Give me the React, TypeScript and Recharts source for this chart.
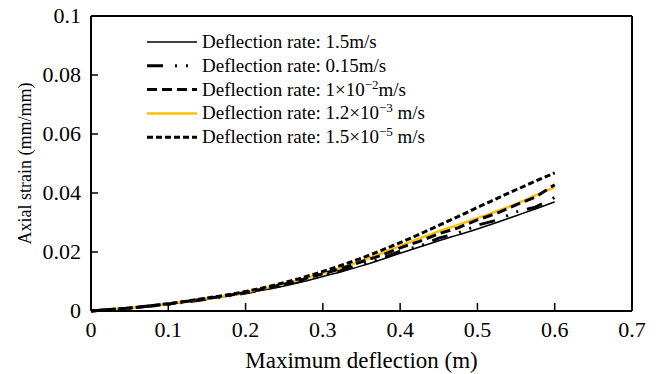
import { LineChart, Line, XAxis, YAxis, ReferenceLine } from "recharts"

// maximum deflection (m)
const deflection = [
  0, 0.025, 0.05, 0.075, 0.1, 0.125, 0.15, 0.175, 0.2, 0.225, 0.25, 0.275, 0.3,
  0.325, 0.35, 0.375, 0.4, 0.425, 0.45, 0.475, 0.5, 0.525, 0.55, 0.575, 0.6,
]

// axial strain (mm/mm) for each deflection rate
const rate1_5 = [
  0, 0.0005, 0.001, 0.0016, 0.0023, 0.0031, 0.004, 0.005, 0.006, 0.0072, 0.0085, 0.01, 0.0117,
  0.0134, 0.0153, 0.0174, 0.0196, 0.0217, 0.0238, 0.0258, 0.0278, 0.03, 0.0323, 0.0346, 0.037,
]
const rate0_15 = [
  0, 0.0005, 0.001, 0.0016, 0.0023, 0.0031, 0.004, 0.005, 0.0061, 0.0074, 0.0088, 0.0104, 0.0122,
  0.0138, 0.0159, 0.0177, 0.0203, 0.0219, 0.0247, 0.0264, 0.0291, 0.0308, 0.0336, 0.0352, 0.0385,
]
const rate1e2 = [
  0, 0.0005, 0.001, 0.0017, 0.0024, 0.0033, 0.0042, 0.0052, 0.0063, 0.0076, 0.0091, 0.0108, 0.0126,
  0.0145, 0.0167, 0.0188, 0.0214, 0.0236, 0.0262, 0.0282, 0.0309, 0.0331, 0.036, 0.0386, 0.0428,
]
const rate1_2e3 = [
  0, 0.0005, 0.001, 0.0017, 0.0024, 0.0033, 0.0042, 0.0052, 0.0063, 0.0077, 0.0092, 0.0109, 0.0128,
  0.0148, 0.017, 0.0195, 0.0221, 0.0246, 0.027, 0.0292, 0.0315, 0.0338, 0.0363, 0.0392, 0.042,
]
const rate1_5e5 = [
  0, 0.0005, 0.001, 0.0017, 0.0025, 0.0034, 0.0044, 0.0054, 0.0066, 0.008, 0.0096, 0.0114, 0.0134,
  0.0156, 0.0179, 0.0205, 0.0232, 0.026, 0.029, 0.032, 0.0351, 0.0381, 0.0411, 0.044, 0.0468,
]

const xTicks = [0, 0.1, 0.2, 0.3, 0.4, 0.5, 0.6, 0.7]
const yTicks = [0, 0.02, 0.04, 0.06, 0.08, 0.1]

const data = deflection.map((x, i) => ({
  x,
  r1: rate1_5[i],
  r2: rate0_15[i],
  r3: rate1e2[i],
  r4: rate1_2e3[i],
  r5: rate1_5e5[i],
}))

const FONT = "'Liberation Serif', 'Times New Roman', serif"

const XTick = (props: any) => {
  const { x, y, payload } = props
  return (
    <g>
      <line x1={x} x2={x} y1={311} y2={303} stroke="#000" strokeWidth={1.5} />
      <text x={x} y={y + 18} textAnchor="middle" fontSize={22} fontFamily={FONT} fill="#000">
        {payload.value}
      </text>
    </g>
  )
}

const YTick = (props: any) => {
  const { x, y, payload } = props
  return (
    <g>
      <line x1={91} x2={98} y1={y} y2={y} stroke="#000" strokeWidth={1.5} />
      <text x={x - 2} y={y + 7} textAnchor="end" fontSize={22} fontFamily={FONT} fill="#000">
        {payload.value}
      </text>
    </g>
  )
}

const legendRows = [
  { label: <>Deflection rate: 1.5m/s</>, stroke: "#000", width: 1.5, dash: undefined },
  { label: <>Deflection rate: 0.15m/s</>, stroke: "#000", width: 3, dash: "16 12 2 9 2 9" },
  {
    label: <>Deflection rate: 1×10<tspan dy={-7} fontSize={13}>−2</tspan><tspan dy={7}>m/s</tspan></>,
    stroke: "#000", width: 3, dash: "10 5",
  },
  {
    label: <>Deflection rate: 1.2×10<tspan dy={-7} fontSize={13}>−3</tspan><tspan dy={7}> m/s</tspan></>,
    stroke: "#FFC000", width: 2.5, dash: undefined,
  },
  {
    label: <>Deflection rate: 1.5×10<tspan dy={-7} fontSize={13}>−5</tspan><tspan dy={7}> m/s</tspan></>,
    stroke: "#000", width: 3, dash: "6 3",
  },
]

const LegendBox = () => (
  <svg width={260} height={120} style={{ overflow: "visible" }}>
    {legendRows.map((row, i) => {
      const cy = 12 + i * 23.8
      return (
        <g key={i}>
          <line x1={0} x2={50} y1={cy} y2={cy} stroke={row.stroke} strokeWidth={row.width} strokeDasharray={row.dash} />
          <text x={55} y={cy + 6} fontSize={19} fontFamily={FONT} fill="#000">
            {row.label}
          </text>
        </g>
      )
    })}
  </svg>
)

export default function App() {
  return (
    <div style={{ position: "absolute", left: 0, top: 0, width: 659, height: 374, background: "#fff" }}>
      <LineChart width={659} height={374} data={data} margin={{ top: 16, right: 27, left: 0, bottom: 0 }}>
        <XAxis
          dataKey="x"
          type="number"
          domain={[0, 0.7]}
          ticks={xTicks}
          tick={<XTick />}
          tickLine={false}
          axisLine={{ stroke: "#000", strokeWidth: 2 }}
          height={63}
          label={{ value: "Maximum deflection (m)", position: "insideBottom", offset: 6, fontSize: 23, fontFamily: FONT, fill: "#000" }}
        />
        <YAxis
          type="number"
          domain={[0, 0.1]}
          ticks={yTicks}
          tick={<YTick />}
          tickLine={false}
          axisLine={{ stroke: "#000", strokeWidth: 2 }}
          width={91}
          label={{ value: "Axial strain (mm/mm)", angle: -90, position: "insideLeft", offset: 25, fontSize: 18, fontFamily: FONT, fill: "#000", style: { textAnchor: "middle" } }}
        />
        <ReferenceLine y={0.1} stroke="#000" strokeWidth={2} />
        <ReferenceLine x={0.7} stroke="#000" strokeWidth={2} />
        <Line dataKey="r1" type="monotone" stroke="#000" strokeWidth={1.5} dot={false} isAnimationActive={false} />
        <Line dataKey="r2" type="linear" stroke="#000" strokeWidth={3} strokeDasharray="16 12 2 9 2 9" dot={false} isAnimationActive={false} />
        <Line dataKey="r4" type="monotone" stroke="#FFC000" strokeWidth={2.5} dot={false} isAnimationActive={false} />
        <Line dataKey="r3" type="linear" stroke="#000" strokeWidth={3} strokeDasharray="10 5" dot={false} isAnimationActive={false} />
        <Line dataKey="r5" type="monotone" stroke="#000" strokeWidth={3} strokeDasharray="6 3" dot={false} isAnimationActive={false} />
      </LineChart>
      <div style={{ position: "absolute", left: 147, top: 30 }}>
        <LegendBox />
      </div>
    </div>
  )
}
